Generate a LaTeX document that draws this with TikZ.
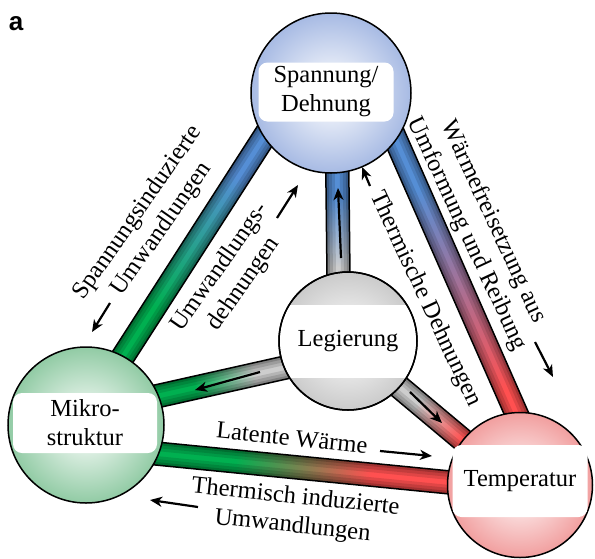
\documentclass[tikz,border=0pt]{standalone}
\usepackage{fontspec}
\setmainfont{Liberation Serif}
\newfontfamily\asans{Liberation Sans}
\usetikzlibrary{calc,arrows.meta}

\definecolor{barblue}{RGB}{85,142,213}
\definecolor{bargreen}{RGB}{0,176,80}
\definecolor{barred}{RGB}{255,80,80}
\definecolor{bargray}{RGB}{205,205,205}
\definecolor{ballblueC}{RGB}{95,130,205}
\definecolor{ballgreenC}{RGB}{55,160,90}
\definecolor{ballredC}{RGB}{230,80,80}
\definecolor{ballgrayC}{RGB}{150,150,150}

\pgfdeclarehorizontalshading{shSM}{100bp}{color(0bp)=(bargreen); color(41bp)=(bargreen); color(59bp)=(barblue); color(100bp)=(barblue)}
\pgfdeclarehorizontalshading{shST}{100bp}{color(0bp)=(barred); color(37bp)=(barred); color(63bp)=(barblue); color(100bp)=(barblue)}
\pgfdeclarehorizontalshading{shMT}{100bp}{color(0bp)=(bargreen); color(42bp)=(bargreen); color(58bp)=(barred); color(100bp)=(barred)}
\pgfdeclarehorizontalshading{shLS}{100bp}{color(0bp)=(bargray); color(40bp)=(bargray); color(60bp)=(barblue); color(100bp)=(barblue)}
\pgfdeclarehorizontalshading{shLM}{100bp}{color(0bp)=(bargreen); color(44bp)=(bargreen); color(56bp)=(bargray); color(100bp)=(bargray)}
\pgfdeclarehorizontalshading{shLT}{100bp}{color(0bp)=(bargray); color(44bp)=(bargray); color(56bp)=(barred); color(100bp)=(barred)}

\pgfdeclareradialshading{ballS}{\pgfpoint{0bp}{0bp}}{color(0bp)=(white); color(6bp)=(ballblueC!12); color(25bp)=(ballblueC!55); color(42bp)=(ballblueC!90); color(50bp)=(ballblueC!80!black)}
\pgfdeclareradialshading{ballM}{\pgfpoint{0bp}{0bp}}{color(0bp)=(white); color(6bp)=(ballgreenC!12); color(25bp)=(ballgreenC!55); color(42bp)=(ballgreenC!90); color(50bp)=(ballgreenC!80!black)}
\pgfdeclareradialshading{ballT}{\pgfpoint{0bp}{0bp}}{color(0bp)=(white); color(6bp)=(ballredC!12); color(25bp)=(ballredC!55); color(42bp)=(ballredC!90); color(50bp)=(ballredC!80!black)}
\pgfdeclareradialshading{ballL}{\pgfpoint{0bp}{0bp}}{color(0bp)=(white); color(6bp)=(ballgrayC!12); color(25bp)=(ballgrayC!50); color(42bp)=(ballgrayC!85); color(50bp)=(ballgrayC!80!black)}

\newcommand\labfont{\fontsize{24.5}{29}\selectfont}

\newcommand\pipebar[3]{%
  \path let \p1=($(#2)-(#1)$), \n1={atan2(\y1,\x1)}, \n2={veclen(\x1,\y1)} in
    \pgfextra{\xdef\bangle{\n1}\xdef\blen{\n2}};
  \begin{scope}[transform canvas={shift={(#1)}, rotate=\bangle}, x=1pt, y=1pt]
    \shade[shading=#3] (0,-11.5) rectangle (\blen,11.5);
    \foreach \ww/\oo in {9/0.12,6/0.13,3/0.17}{%
      \draw[line width=\ww pt, black, opacity=\oo] (0,11.5-\ww/2) -- (\blen,11.5-\ww/2);
      \draw[line width=\ww pt, black, opacity=\oo] (0,-11.5+\ww/2) -- (\blen,-11.5+\ww/2);
    }%
    \draw[line width=1.5pt, black] (0,-11.5) rectangle (\blen,11.5);
  \end{scope}
}

\tikzset{
  ball/.style={circle, draw=black, line width=1.5pt, inner sep=0pt, outer sep=0pt},
  lbox/.style={fill=white, rounded corners=9pt, inner sep=0pt, align=center, font=\labfont},
  lbl/.style={align=center, font=\labfont, inner sep=0pt},
  arr/.style={line width=2.2pt, -{Stealth[length=12pt, width=10pt, inset=3.5pt]}},
}

\begin{document}
\begin{tikzpicture}[x=1pt, y=-1pt]
\useasboundingbox (0,0) rectangle (595,558);

% bar end points
\coordinate (smA) at (79,425);  \coordinate (smB) at (313,61);
\coordinate (stA) at (547,483); \coordinate (stB) at (377,97);
\coordinate (mtA) at (90,447);  \coordinate (mtB) at (516,489);
\coordinate (lsA) at (339,320); \coordinate (lsB) at (337,144);
\coordinate (lmA) at (100,409); \coordinate (lmB) at (350,353);
\coordinate (ltA) at (348,344); \coordinate (ltB) at (532,498);

\pipebar{smA}{smB}{shSM}
\pipebar{stA}{stB}{shST}
\pipebar{mtA}{mtB}{shMT}
\pipebar{lsA}{lsB}{shLS}
\pipebar{lmA}{lmB}{shLM}
\pipebar{ltA}{ltB}{shLT}

% balls
\node[ball, shading=ballS, minimum size=160pt] (S) at (331,93) {};
\node[ball, shading=ballM, minimum size=156pt] (M) at (86,425) {};
\node[ball, shading=ballT, minimum size=145pt] (T) at (520,485) {};
\node[ball, shading=ballL, minimum size=138pt] (L) at (348,341) {};

% label boxes
\node[lbox, minimum width=135pt, minimum height=59pt] (Sl) at (326,92) {Spannung/\\Dehnung};
\node[lbox, minimum width=144pt, minimum height=60pt] (Ml) at (85,423) {Mikro-\\struktur};
\node[lbox, minimum width=135pt, minimum height=72pt] (Tl) at (520,481) {Temperatur};
\begin{scope}
  \clip (348,341) circle (68pt);
  \node[lbox, rounded corners=0pt, minimum width=140pt, minimum height=73pt] (Lb) at (348,341) {};
\end{scope}
\draw[black, line width=1.5pt] (L.center) circle (69pt);
\node[lbl] (Ll) at (348,341) {Legierung};

% inner arrows
\coordinate (i1a) at (341,258); \coordinate (i1b) at (338,188);
\coordinate (i2a) at (260,372); \coordinate (i2b) at (195,390);
\coordinate (i3a) at (410,392); \coordinate (i3b) at (442,423);
\draw[arr] (i1a) -- (i1b);
\draw[arr] (i2a) -- (i2b);
\draw[arr] (i3a) -- (i3b);

% outer arrows
\coordinate (o1a) at (110,303); \coordinate (o1b) at (92,332);
\coordinate (o2a) at (277,218); \coordinate (o2b) at (298,185);
\coordinate (o3a) at (370,186); \coordinate (o3b) at (362,167);
\coordinate (o4a) at (535,342); \coordinate (o4b) at (553,377);
\coordinate (o5a) at (380,451); \coordinate (o5b) at (432,456);
\coordinate (o6a) at (198,507); \coordinate (o6b) at (150,500);
\draw[arr] (o1a) -- (o1b);
\draw[arr] (o2a) -- (o2b);
\draw[arr] (o3a) -- (o3b);
\draw[arr] (o4a) -- (o4b);
\draw[arr] (o5a) -- (o5b);
\draw[arr] (o6a) -- (o6b);

% connector labels
\node[lbl, rotate=55] (t1) at (150,221) {Spannungsinduzierte\\Umwandlungen};
\node[lbl, rotate=55] (t2) at (232,276) {Umwandlungs-\\dehnungen};
\node[lbl, rotate=-65] (t3) at (425,299) {Thermische Dehnungen};
\node[lbl, rotate=-65] (t4) at (480,228) {Wärmefreisetzung aus\\Umformung und Reibung};
\node[lbl, rotate=-6] (t5) at (292,438) {Latente Wärme};
\node[lbl, rotate=-6] (t6) at (294,512) {Thermisch induzierte\\Umwandlungen};

% panel letter
\node[inner sep=0pt] (pa) at (16,24) {\asans\bfseries\fontsize{26}{26}\selectfont a};
\end{tikzpicture}
\end{document}
